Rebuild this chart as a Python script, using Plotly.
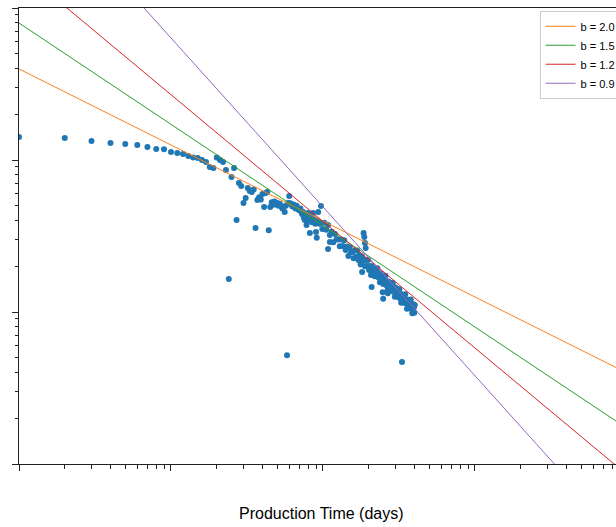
import plotly.graph_objects as go
import numpy as np

# ---- Data ----
days_early = list(range(1, 96))
rates_early = [141.7, 139.6, 133.4, 129.4, 127.4, 125.5, 121.8, 118.1, 117.5, 112.9,
               111.2, 109.5, 106.2, 104.0, 103.1, 100.0, 97.0, 89.9, 88.6, 104.0,
               100.0, 97.0, 86.0, 16.5, 77.3, 88.6, 40.3, 70.6, 67.4, 52.1,
               56.2, 65.4, 62.5, 61.5, 64.0, 35.7, 54.6, 56.9, 55.0, 59.7,
               49.0, 60.6, 61.5, 34.5, 49.0, 52.8, 50.8, 53.4, 51.0, 52.1,
               50.0, 51.5, 50.0, 48.0, 49.0, 45.5, 50.0, 5.2, 52.1, 57.9,
               52.0, 50.9, 49.5, 51.0, 49.8, 48.0, 50.0, 48.3, 47.0, 46.9,
               48.0, 45.5, 44.0, 45.5, 41.5, 40.3, 43.0, 37.3, 42.0, 44.8,
               40.0, 33.1, 42.0, 40.5, 39.0, 44.8, 41.0, 39.5, 38.0, 33.6,
               30.8, 40.0, 45.5, 39.0, 38.0]

days_late = list(range(96, 403, 3))
rates_late = [38.7, 35.1, 38.6, 34.7, 37.4, 32.1, 33.7, 28.8, 32.6, 30.1,
              30.0, 27.1, 30.0, 27.2, 29.7, 25.6, 27.0, 23.4, 26.6, 24.7,
              24.8, 22.6, 25.4, 23.1, 25.4, 22.0, 23.5, 20.5, 23.3, 21.7,
              21.8, 20.0, 22.0, 20.1, 22.0, 18.9, 20.1, 17.5, 20.0, 18.6,
              18.8, 17.2, 19.2, 17.6, 19.4, 16.9, 17.9, 15.7, 17.9, 16.7,
              16.6, 15.3, 17.1, 15.6, 17.3, 15.0, 15.9, 14.0, 15.9, 15.0,
              15.1, 13.9, 15.5, 14.3, 15.5, 13.6, 14.5, 12.6, 14.5, 13.5,
              13.6, 12.6, 14.1, 12.8, 14.1, 12.3, 13.1, 11.5, 13.1, 12.3,
              12.5, 11.5, 12.9, 11.8, 13.1, 11.4, 12.0, 10.5, 12.1, 11.3,
              11.4, 10.6, 11.9, 10.9, 12.1, 10.5, 11.2, 9.8, 11.3, 10.6,
              10.7, 9.9, 11.1]

days_extra = [97, 108, 111, 185, 187, 189, 191, 181, 209, 247, 267, 249, 331]
rates_extra = [49.8, 26.0, 28.9, 33.1, 31.1, 28.4, 26.4, 18.3, 14.6, 13.5, 13.3, 12.2, 4.69]

# Hyperbolic (power-law tail) fits: q = q1 * t^(-1/b)
b_values = [2.0, 1.5, 1.2, 0.9]
q_at_day1 = [397.0, 797.0, 1832.0, 8204.0]
fit_labels = ["b = 2.0", "b = 1.5", "b = 1.2", "b = 0.9"]
fit_colors = ["#ff7f0e", "#2ca02c", "#d62728", "#9467bd"]
fit_days = [1.0, 10000.0]

days = days_early + days_late + days_extra
rates = rates_early + rates_late + rates_extra

fig = go.Figure()
fig.add_trace(go.Scatter(
    x=days, y=rates, mode="markers", showlegend=False,
    marker=dict(color="#1f77b4", size=6, line=dict(width=0)),
))
for b, q1, lab, col in zip(b_values, q_at_day1, fit_labels, fit_colors):
    t = np.array(fit_days)
    fig.add_trace(go.Scatter(
        x=t, y=q1 * t ** (-1.0 / b), mode="lines", name=lab,
        line=dict(color=col, width=1),
    ))

axis_common = dict(
    type="log", showgrid=False, zeroline=False, showline=True,
    linecolor="#222", linewidth=1, ticks="outside", ticklen=6,
    tickwidth=1, tickcolor="#222", dtick=1, showticklabels=False,
    minor=dict(ticks="outside", ticklen=3.5, tickwidth=1, tickcolor="#222",
               dtick="D1", showgrid=False),
)
fig.update_xaxes(range=[0, 3.928], mirror=True, **axis_common)
fig.update_yaxes(range=[0, 3], mirror=False, **axis_common)

fig.add_annotation(
    text="Production Time (days)", xref="paper", yref="paper",
    x=0.5075, y=-0.1096, xanchor="center", yanchor="middle",
    showarrow=False, font=dict(size=16, color="#000", family="Liberation Sans"),
)

fig.update_layout(
    width=616, height=527,
    margin=dict(l=19, r=0, t=8, b=63, autoexpand=False),
    paper_bgcolor="white", plot_bgcolor="white",
    font=dict(family="Liberation Sans", color="#000"),
    legend=dict(
        x=0.872, xanchor="left", y=0.994, yanchor="top",
        bgcolor="white", bordercolor="#cccccc", borderwidth=1,
        font=dict(size=11, family="Liberation Sans"),
        tracegroupgap=0, itemwidth=30,
    ),
)

fig.write_html("out.html")
